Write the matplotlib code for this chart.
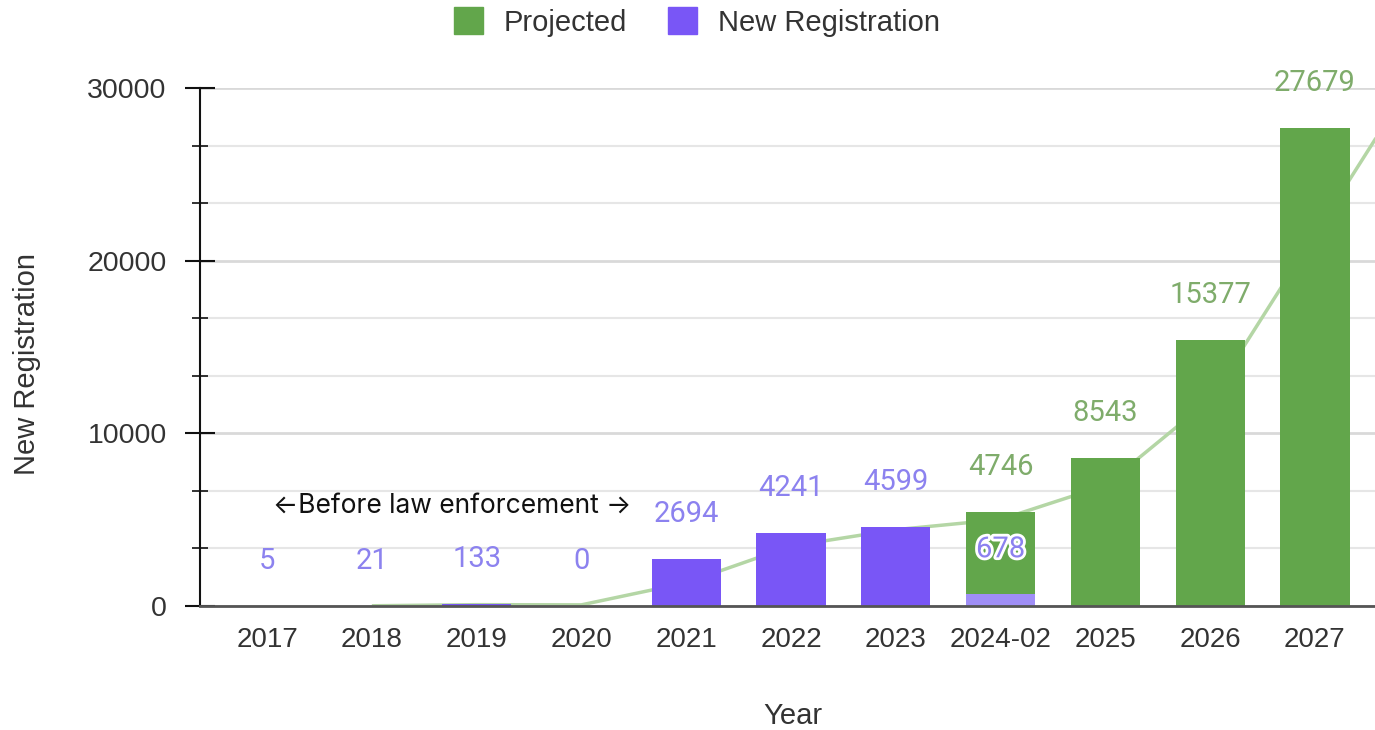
import numpy as np
import matplotlib
matplotlib.use("Agg")
import matplotlib.pyplot as plt
from matplotlib.ticker import MultipleLocator
from matplotlib.patches import Patch
import matplotlib.patheffects as pe

# ---- data ----
categories = ['2017', '2018', '2019', '2020', '2021', '2022', '2023',
              '2024-02', '2025', '2026', '2027']
new_registration = [5, 21, 133, 0, 2694, 4241, 4599, 678, np.nan, np.nan, np.nan]
projected = [np.nan, np.nan, np.nan, np.nan, np.nan, np.nan, np.nan,
             4746, 8543, 15377, 27679]
annotation_text = '\u2190Before law enforcement \u2192'

# ---- styles ----
PURPLE = '#7956f6'
PURPLE_LIGHT = '#9f8ef6'
GREEN = '#62a64b'
PURPLE_LBL = '#8c82ef'
GREEN_LBL = '#7fac6b'
TREND = '#b4d6a5'

fig = plt.figure(figsize=(13.75, 7.3), dpi=100)
W, H = 1375, 730
x_left, x_right = -0.64, 10.64
ax_l, ax_r, ax_t, ax_b = 200, 1382, 88, 606
ax = fig.add_axes([ax_l / W, (H - ax_b) / H, (ax_r - ax_l) / W, (ax_b - ax_t) / H])

x = np.arange(len(categories))
nr = np.array(new_registration, dtype=float)
pj = np.array(projected, dtype=float)
nr0 = np.nan_to_num(nr)
pj0 = np.nan_to_num(pj)
total = nr0 + pj0

# trendline: 2-period moving average of totals
ma = (total[1:] + total[:-1]) / 2.0
mx = x[1:].astype(float)
slope = ma[-1] - ma[-2]
tx = np.append(mx, x_right)
ty = np.append(ma, ma[-1] + slope * (x_right - mx[-1]))
ax.plot(tx, ty, color=TREND, lw=2.5, zorder=2, solid_capstyle='butt')

bw = 0.66
nr_colors = [PURPLE] * 7 + [PURPLE_LIGHT] * 4
ax.bar(x, nr0, width=bw, color=nr_colors, zorder=3, linewidth=0)
ax.bar(x, pj0, bottom=nr0, width=bw, color=GREEN, zorder=3, linewidth=0)

off = 32.4  # points
LFS = 21
for i in range(len(categories)):
    if not np.isnan(nr[i]):
        t = ax.annotate(f'{int(nr[i])}', xy=(x[i], nr0[i]), xytext=(0, off),
                        textcoords='offset points', ha='center', va='center',
                        fontsize=LFS, color=PURPLE_LBL, family='Roboto', zorder=5)
        if not np.isnan(pj[i]):
            t.set_path_effects([pe.withStroke(linewidth=4, foreground='white')])
    if not np.isnan(pj[i]):
        ax.annotate(f'{int(pj[i])}', xy=(x[i], total[i]), xytext=(0, off),
                    textcoords='offset points', ha='center', va='center',
                    fontsize=LFS, color=GREEN_LBL, family='Roboto', zorder=5,
                    annotation_clip=False)

ax.text(1.77, 5790, annotation_text, ha='center', va='center', fontsize=19,
        family='Inter', color='#111111', zorder=6)

TFS = 20
ax.set_xlim(x_left, x_right)
ax.set_ylim(0, 30000)
ax.set_xticks(x)
ax.set_xticklabels(categories, family='Liberation Sans', fontsize=TFS, color='#333333')
ax.set_yticks([0, 10000, 20000, 30000])
ax.set_yticklabels(['0', '10000', '20000', '30000'], family='Liberation Sans',
                   fontsize=TFS + 0.5, color='#333333')
ax.yaxis.set_minor_locator(MultipleLocator(10000 / 3))
ax.tick_params(axis='x', length=0, pad=15)
ax.tick_params(axis='y', which='major', direction='inout', length=21, width=1.5, pad=13.5, color='#111111')
ax.tick_params(axis='y', which='minor', direction='inout', length=11, width=1.2, color='#111111')

ax.grid(True, which='major', axis='y', color='#d9d9d9', lw=2, zorder=0)
ax.grid(True, which='minor', axis='y', color='#e6e6e6', lw=1.5, zorder=0)
ax.set_axisbelow(True)

for s in ['top', 'right']:
    ax.spines[s].set_visible(False)
ax.spines['left'].set_color('#111111')
ax.spines['left'].set_linewidth(1.5)
ax.spines['bottom'].set_color('#555555')
ax.spines['bottom'].set_linewidth(2)
ax.spines['bottom'].set_zorder(4)

ax.set_xlabel('Year', family='Liberation Sans', fontsize=21, color='#333333', va='center')
ax.xaxis.set_label_coords((793 - ax_l) / (ax_r - ax_l), -(716 - ax_b) / (ax_b - ax_t))
ax.set_ylabel('New Registration', family='Liberation Sans', fontsize=21, color='#333333',
              va='center')
ax.yaxis.set_label_coords((27 - ax_l) / (ax_r - ax_l), (ax_b - 364) / (ax_b - ax_t))

handles = [Patch(color=GREEN, label='Projected'), Patch(color=PURPLE, label='New Registration')]
fig.legend(handles=handles, loc='center', bbox_to_anchor=(697 / W, 1 - 22 / H), ncol=2,
           frameon=False, handlelength=1.0, handleheight=1.0, handletextpad=0.7,
           columnspacing=1.4, prop={'family': 'Liberation Sans', 'size': 21},
           labelcolor='#333333')

fig.savefig('out.png', dpi=100)
